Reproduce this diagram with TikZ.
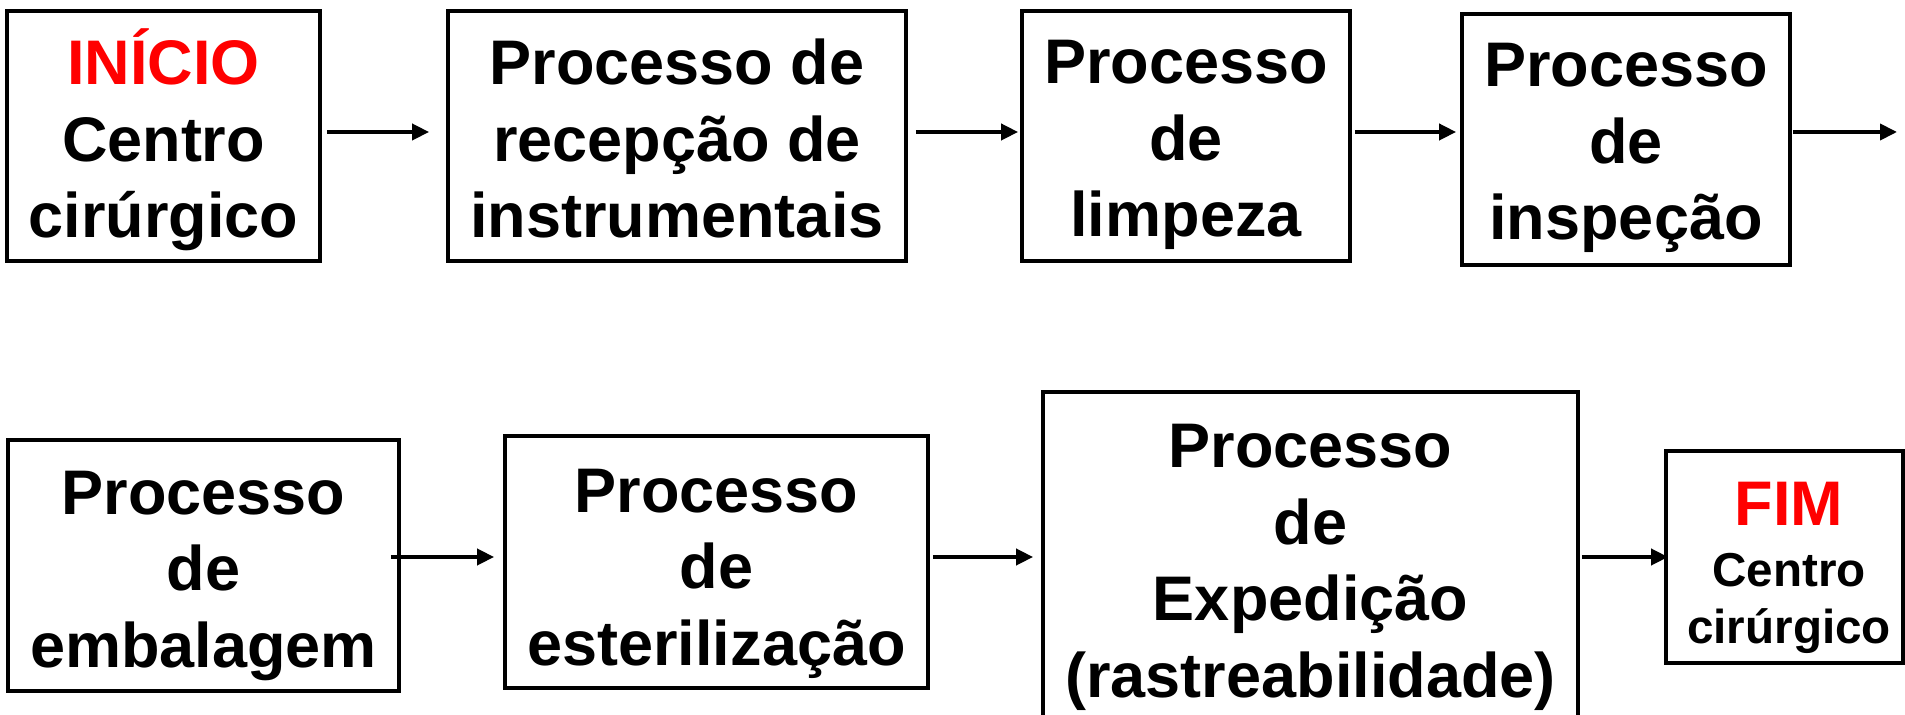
\documentclass[tikz,border=0pt]{standalone}
\usepackage{fontspec}
\setmainfont{Liberation Sans}
\usetikzlibrary{arrows.meta,calc}
\newcommand\lastdp{\rule[-8pt]{0pt}{8pt}}
\newcommand\lastdps{\rule[-6pt]{0pt}{6pt}}
\tikzset{
  procbox/.style={draw=black, line width=1.9pt, inner sep=0pt},
  txt/.style={inner sep=0pt, outer sep=0pt, align=center, anchor=south,
    font=\fontsize{31.5}{38.25}\selectfont\bfseries},
  txtsmall/.style={inner sep=0pt, outer sep=0pt, align=center, anchor=south,
    font=\fontsize{23.8}{28.5}\selectfont\bfseries},
  flow/.style={line width=1.9pt, -{Triangle[length=8.5pt,width=8pt]}},
}
\begin{document}
\begin{tikzpicture}[x=0.5pt,y=-0.5pt]
\useasboundingbox (0,0) rectangle (1905,715);
% boxes, row 1
\node[procbox, minimum width=156.5pt, minimum height=125pt] (b1) at (163.5,136) {};
\node[procbox, minimum width=229pt, minimum height=125pt] (b2) at (677,136) {};
\node[procbox, minimum width=164pt, minimum height=125pt] (b3) at (1186,136) {};
\node[procbox, minimum width=164pt, minimum height=125.5pt] (b4) at (1626,139.5) {};
% boxes, row 2
\node[procbox, minimum width=195.5pt, minimum height=125.5pt] (b5) at (203.5,565.5) {};
\node[procbox, minimum width=211.5pt, minimum height=126pt] (b6) at (716.5,562) {};
\node[procbox, minimum width=267.5pt, minimum height=174pt] (b7) at (1310.5,566) {};
\node[procbox, minimum width=118.5pt, minimum height=106pt] (b8) at (1784.5,557) {};
% texts
\node[txt] (t1) at (163.5,254) {\textcolor{red}{INÍCIO}\\Centro\\cirúrgico\lastdp};
\node[txt] (t2) at (677,254) {Processo de\\recepção de\\instrumentais\lastdp};
\node[txt] (t3) at (1186,253) {Processo\\de\\limpeza\lastdp};
\node[txt] (t4) at (1626,256) {Processo\\de\\inspeção\lastdp};
\node[txt] (t5) at (203.5,683) {Processo\\de\\embalagem\lastdp};
\node[txt] (t6) at (716.5,681) {Processo\\de\\esterilização\lastdp};
\node[txt] (t7) at (1310.5,713) {Processo\\de\\Expedição\\(rastreabilidade)\lastdp};
\node[anchor=base, inner sep=0pt, text=red, font=\fontsize{31.5}{38.25}\selectfont\bfseries] (t8a) at (1789,526) {FIM};
\node[txtsmall] (t8b) at (1789,655) {Centro\\cirúrgico\lastdps};
% arrows
\coordinate (r1) at (0,132);
\coordinate (r2) at (0,557);
\coordinate (e4) at (1897,132);
\draw[flow] ($(b1.east |- r1)+(5,0)$) -- ($(b2.west |- r1)+(-17,0)$);
\draw[flow] ($(b2.east |- r1)+(8,0)$) -- ($(b3.west |- r1)+(-2,0)$);
\draw[flow] ($(b3.east |- r1)+(3,0)$) -- ($(b4.west |- r1)+(-4,0)$);
\draw[flow] ($(b4.east |- r1)+(1,0)$) -- (e4);
\draw[flow] ($(b5.east |- r2)+(-10,0)$) -- ($(b6.west |- r2)+(-9,0)$);
\draw[flow] ($(b6.east |- r2)+(3,0)$) -- ($(b7.west |- r2)+(-8,0)$);
\draw[flow] ($(b7.east |- r2)+(2,0)$) -- ($(b8.west |- r2)+(4,0)$);
\end{tikzpicture}
\end{document}
